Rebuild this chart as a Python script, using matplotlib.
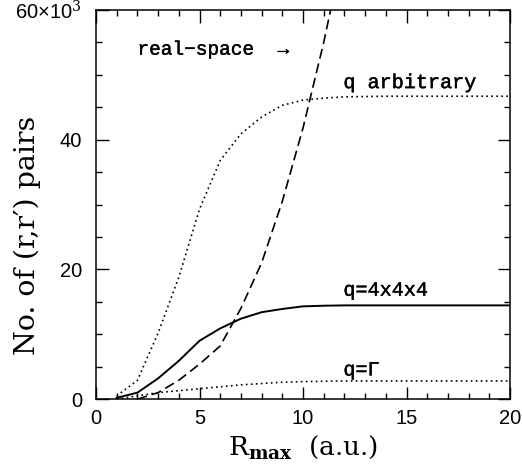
import matplotlib
matplotlib.use("Agg")
import matplotlib.pyplot as plt
import matplotlib.patheffects as pe
from matplotlib.ticker import MultipleLocator

# ---------------------------
# Data (values in units of 10^3 pairs)
# ---------------------------
r_arb = [1, 2, 3, 4, 5, 6, 7, 8, 9, 10, 11, 12, 14, 16, 18, 20]
n_arb = [0.5, 2.9, 10.2, 18.8, 29.3, 36.8, 40.9, 43.5, 45.3, 46.1, 46.4, 46.6, 46.7, 46.7, 46.7, 46.7]

r_444 = [1, 2, 3, 4, 5, 6, 7, 8, 9, 10, 11, 12, 14, 16, 18, 20]
n_444 = [0.2, 1.0, 3.2, 5.9, 9.0, 10.9, 12.4, 13.4, 13.9, 14.3, 14.4, 14.45, 14.45, 14.45, 14.45, 14.45]

r_gam = [1, 2, 3, 4, 5, 6, 7, 8, 9, 10, 12, 14, 16, 18, 20]
n_gam = [0.0, 0.5, 1.0, 1.3, 1.6, 1.9, 2.2, 2.4, 2.6, 2.7, 2.8, 2.8, 2.8, 2.8, 2.8]

r_real = [2, 3, 4, 5, 6, 7, 8, 9, 10, 11, 12]
n_real = [0.0, 1.0, 2.9, 5.4, 8.2, 14.0, 21.0, 30.5, 41.8, 55.0, 70.0]

ytick_vals = [0, 20, 40, 60]
ytick_labels = ["0", "20", "40", "60×10$^{3}$"]
xtick_vals = [0, 5, 10, 15, 20]

# ---------------------------
# Figure
# ---------------------------
plt.rcParams["mathtext.fontset"] = "dejavuserif"

fig = plt.figure(figsize=(5.22, 4.74), dpi=100)
ax = fig.add_axes([0.184, 0.158, 0.793, 0.821])

ax.plot(r_arb, n_arb, color="black", lw=1.2, linestyle=(0, (1, 2)))
ax.plot(r_444, n_444, color="black", lw=1.4)
ax.plot(r_gam, n_gam, color="black", lw=1.2, linestyle=(0, (1, 2)))
ax.plot(r_real, n_real, color="black", lw=1.2, linestyle=(0, (6, 3)))

ax.set_xlim(0, 20)
ax.set_ylim(0, 60)

ax.set_xticks(xtick_vals)
ax.set_xticklabels([str(v) for v in xtick_vals])
ax.set_yticks(ytick_vals)
ax.set_yticklabels(ytick_labels)
ax.xaxis.set_minor_locator(MultipleLocator(1))
ax.yaxis.set_minor_locator(MultipleLocator(5))

ax.tick_params(which="both", direction="in", top=True, right=True, width=1.0)
ax.tick_params(which="major", length=9)
ax.tick_params(axis="x", which="major", pad=7)
ax.tick_params(axis="y", which="major", pad=10)
ax.tick_params(which="minor", length=4.5)
for lab in ax.get_xticklabels() + ax.get_yticklabels():
    lab.set_family("Liberation Sans")
    lab.set_fontsize(14.5)
for s in ax.spines.values():
    s.set_linewidth(1.1)

ax.set_xlabel(r"R$_{\mathbf{max}}$  (a.u.)", fontsize=19, family="DejaVu Serif", labelpad=4)
ax.set_ylabel("No. of (r,r′) pairs", fontsize=20.5, family="DejaVu Serif", va="center")
ax.yaxis.set_label_coords(-0.167, 0.42)

# curve labels (regular mono, thickened a little)
mono = "Liberation Mono"
thick = [pe.withStroke(linewidth=0.3, foreground="black")]
ax.text(2.0, 53.8, "real\u2212space  \u2192", fontsize=14, family=mono, va="center", path_effects=thick)
ax.text(11.95, 48.8, "q arbitrary", fontsize=14.5, family=mono, va="center", path_effects=thick)
ax.text(11.95, 16.8, "q=4x4x4", fontsize=14.5, family=mono, va="center", path_effects=thick)
ax.text(11.95, 4.5, "q=\u0393", fontsize=14.5, family=mono, va="center", path_effects=thick)

fig.savefig("out.png", dpi=100)
